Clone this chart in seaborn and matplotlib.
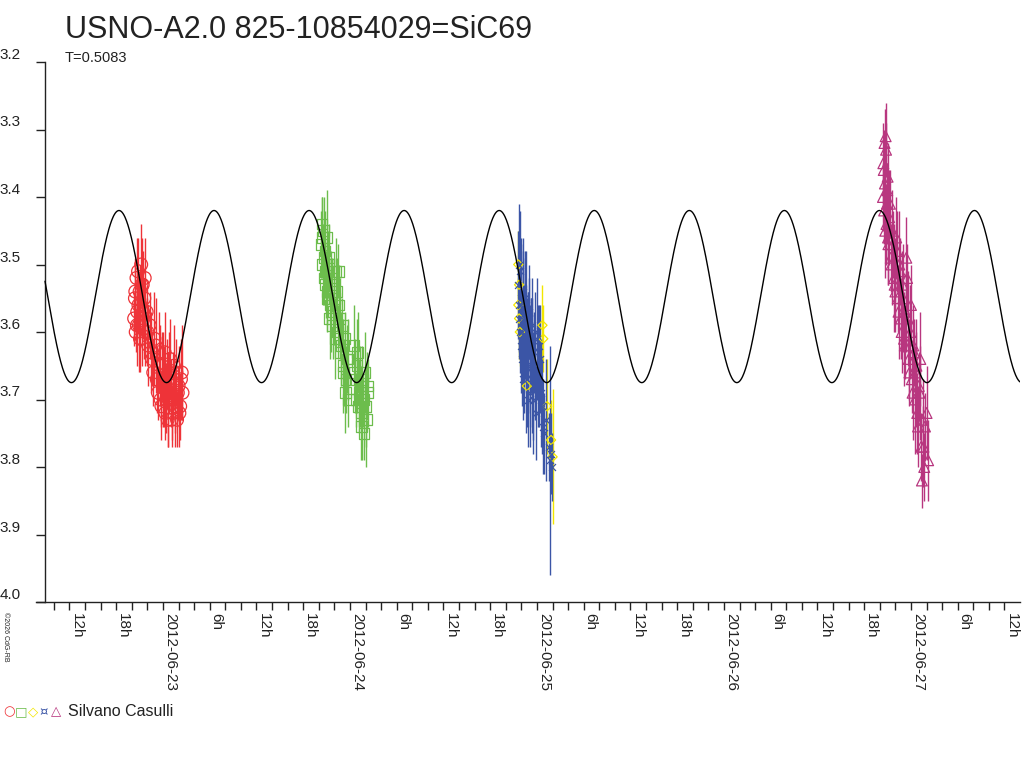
"""
Light curve of USNO-A2.0 825-10854029 (SiC69) with the fitted sinusoid.
"""
import numpy as np
import pandas as pd
import matplotlib
matplotlib.use('Agg')
import matplotlib.pyplot as plt
import seaborn as sns
from matplotlib.ticker import FixedLocator, FuncFormatter

# Observation times in hours since 2012-06-22 00:00, magnitudes and errors
red_t = [20.3, 20.4, 20.5, 20.6, 20.7, 20.8, 20.9, 21.0, 21.1, 21.2, 21.3, 21.4, 21.5,
         21.6, 21.7, 21.9, 22.1, 22.3, 22.6, 22.9, 23.2, 23.5, 23.7, 23.9, 24.1, 24.3,
         24.5, 24.7, 24.9, 25.1, 25.3, 25.5, 25.7, 25.9, 26.1, 26.3, 26.5] + \
        [20.45, 20.65, 20.85, 21.05, 21.25, 21.45, 21.65, 22.0, 22.45, 22.75, 23.05, 23.35,
         23.6, 23.8, 24.0, 24.2, 24.4, 24.6, 24.8, 25.0, 25.2, 25.4, 25.6, 25.8, 26.0, 26.2,
         26.4]
red_mag = [3.58, 3.55, 3.60, 3.52, 3.57, 3.51, 3.59, 3.54, 3.56, 3.50, 3.61, 3.53, 3.58,
           3.55, 3.60, 3.57, 3.62, 3.59, 3.64, 3.61, 3.67, 3.63, 3.70, 3.65, 3.68, 3.72,
           3.66, 3.70, 3.64, 3.73, 3.68, 3.71, 3.66, 3.69, 3.72, 3.67, 3.69] + \
          [3.54, 3.59, 3.56, 3.61, 3.53, 3.57, 3.52, 3.60, 3.63, 3.66, 3.62, 3.69, 3.65,
           3.71, 3.67, 3.63, 3.70, 3.73, 3.66, 3.69, 3.72, 3.65, 3.70, 3.73, 3.68, 3.71,
           3.66]
red_err = [0.04, 0.05, 0.03, 0.06, 0.04, 0.05, 0.07, 0.04, 0.05, 0.06, 0.04, 0.05, 0.06,
           0.03, 0.05, 0.04, 0.06, 0.05, 0.04, 0.07, 0.05, 0.06, 0.04, 0.05, 0.06, 0.04,
           0.05, 0.07, 0.06, 0.04, 0.05, 0.06, 0.05, 0.04, 0.05, 0.06, 0.04] + \
          [0.05, 0.06, 0.04, 0.05, 0.07, 0.04, 0.06, 0.05, 0.06, 0.05, 0.07, 0.04, 0.06,
           0.05, 0.07, 0.06, 0.05, 0.04, 0.06, 0.05, 0.04, 0.06, 0.05, 0.04, 0.06, 0.05,
           0.07]

green_t = [44.3, 44.4, 44.5, 44.6, 44.7, 44.8, 44.9, 45.0, 45.1, 45.2, 45.4, 45.6, 45.8,
           46.0, 46.2, 46.4, 46.6, 46.8, 47.0, 47.2, 47.4, 47.6, 47.8, 48.5, 48.7, 48.9,
           49.1, 49.3, 49.5, 49.7, 49.9, 50.1, 50.3] + \
          [44.45, 44.65, 44.85, 45.05, 45.3, 45.5, 45.7, 45.9, 46.1, 46.3, 46.5, 46.7, 46.9,
           47.1, 47.3, 47.5, 47.7, 48.6, 48.8, 49.0, 49.2, 49.4, 49.6, 49.8, 50.0, 50.2]
green_mag = [3.47, 3.44, 3.50, 3.45, 3.52, 3.48, 3.53, 3.46, 3.55, 3.50, 3.58, 3.52, 3.59,
             3.55, 3.51, 3.60, 3.56, 3.63, 3.59, 3.66, 3.69, 3.64, 3.70, 3.62, 3.67, 3.65,
             3.71, 3.68, 3.74, 3.70, 3.66, 3.73, 3.69] + \
            [3.46, 3.49, 3.51, 3.54, 3.49, 3.56, 3.53, 3.57, 3.61, 3.54, 3.51, 3.58, 3.62,
             3.65, 3.61, 3.67, 3.64, 3.66, 3.70, 3.63, 3.69, 3.72, 3.67, 3.75, 3.71, 3.68]
green_err = [0.05, 0.04, 0.06, 0.05, 0.04, 0.06, 0.05, 0.07, 0.04, 0.05, 0.06, 0.04, 0.05,
             0.06, 0.05, 0.04, 0.06, 0.05, 0.04, 0.05, 0.06, 0.05, 0.04, 0.06, 0.05, 0.07,
             0.04, 0.06, 0.05, 0.04, 0.06, 0.07, 0.05] + \
            [0.06, 0.05, 0.04, 0.06, 0.05, 0.07, 0.04, 0.05, 0.06, 0.05, 0.04, 0.06, 0.05,
             0.07, 0.04, 0.05, 0.06, 0.05, 0.04, 0.06, 0.05, 0.07, 0.05, 0.04, 0.06, 0.05]

yellow_t = [69.6, 69.7, 69.6, 69.8, 69.7, 70.7, 72.7, 72.8, 73.3, 73.8, 74.0]
yellow_mag = [3.50, 3.53, 3.56, 3.60, 3.58, 3.68, 3.59, 3.61, 3.71, 3.76, 3.785]
yellow_err = [0.05, 0.06, 0.04, 0.05, 0.06, 0.05, 0.06, 0.05, 0.07, 0.06, 0.10]

blue_t = [69.6, 69.7, 69.8, 69.9, 70.0, 70.1, 70.2, 70.3, 70.4, 70.5, 70.6, 70.7, 70.8,
          70.9, 71.0, 71.1, 71.2, 71.3, 71.4, 71.5, 71.6, 71.8, 72.0, 72.2, 72.4, 72.6,
          72.9, 73.2, 73.5, 73.7, 73.8, 73.9] + \
         [69.65, 69.75, 69.85, 69.95, 70.05, 70.15, 70.25, 70.35, 70.45, 70.55, 70.65,
          70.75, 70.85, 70.95, 71.05, 71.25, 71.45, 71.7, 71.9, 72.1, 72.3, 72.5, 72.8]
blue_mag = [3.53, 3.58, 3.51, 3.62, 3.56, 3.60, 3.54, 3.65, 3.58, 3.62, 3.56, 3.67, 3.60,
            3.63, 3.57, 3.69, 3.61, 3.65, 3.59, 3.70, 3.63, 3.66, 3.61, 3.68, 3.64, 3.71,
            3.75, 3.73, 3.77, 3.79, 3.78, 3.80] + \
           [3.56, 3.50, 3.60, 3.55, 3.64, 3.58, 3.67, 3.61, 3.55, 3.66, 3.59, 3.63, 3.70,
            3.58, 3.65, 3.62, 3.68, 3.60, 3.72, 3.65, 3.62, 3.69, 3.74]
blue_err = [0.08, 0.06, 0.09, 0.07, 0.10, 0.06, 0.08, 0.07, 0.09, 0.05, 0.08, 0.07, 0.06,
            0.09, 0.07, 0.08, 0.06, 0.10, 0.07, 0.08, 0.06, 0.07, 0.09, 0.06, 0.08, 0.07,
            0.06, 0.09, 0.05, 0.17, 0.06, 0.05] + \
           [0.07, 0.09, 0.06, 0.08, 0.07, 0.10, 0.06, 0.08, 0.07, 0.09, 0.06, 0.08, 0.07,
            0.06, 0.09, 0.07, 0.08, 0.06, 0.07, 0.09, 0.06, 0.08, 0.07]

magenta_t = [116.4, 116.5, 116.6, 116.7, 116.8, 116.9, 117.0, 117.1, 117.2, 117.4, 117.6,
             117.8, 118.0, 118.2, 118.4, 118.6, 118.8, 119.0, 119.2, 119.4, 119.6, 119.8,
             120.0, 120.2, 120.4, 120.6, 120.8, 121.0, 121.2, 121.4, 121.6, 121.8, 122.0,
             122.2] + \
            [116.45, 116.55, 116.65, 116.75, 116.85, 116.95, 117.05, 117.3, 117.5, 117.7,
             117.9, 118.1, 118.3, 118.5, 118.7, 118.9, 119.1, 119.3, 119.5, 119.7, 119.9,
             120.1, 120.3, 120.5, 120.7, 120.9, 121.1, 121.3, 121.5, 121.7]
magenta_mag = [3.40, 3.36, 3.32, 3.45, 3.33, 3.41, 3.37, 3.47, 3.43, 3.49, 3.45, 3.52, 3.54,
               3.48, 3.57, 3.51, 3.60, 3.55, 3.62, 3.49, 3.58, 3.66, 3.56, 3.69, 3.63, 3.66,
               3.72, 3.68, 3.64, 3.82, 3.77, 3.74, 3.72, 3.79] + \
              [3.35, 3.42, 3.38, 3.31, 3.44, 3.39, 3.46, 3.41, 3.50, 3.47, 3.53, 3.46, 3.55,
               3.50, 3.58, 3.53, 3.61, 3.57, 3.52, 3.64, 3.60, 3.67, 3.62, 3.70, 3.65, 3.74,
               3.69, 3.77, 3.73, 3.80]
magenta_err = [0.05, 0.06, 0.05, 0.07, 0.04, 0.06, 0.05, 0.06, 0.07, 0.05, 0.06, 0.08, 0.05,
               0.06, 0.07, 0.05, 0.06, 0.08, 0.05, 0.06, 0.07, 0.05, 0.06, 0.07, 0.05, 0.08,
               0.06, 0.05, 0.07, 0.04, 0.06, 0.05, 0.07, 0.06] + \
              [0.06, 0.05, 0.07, 0.05, 0.06, 0.04, 0.07, 0.05, 0.06, 0.05, 0.07, 0.06, 0.05,
               0.08, 0.06, 0.05, 0.07, 0.06, 0.05, 0.06, 0.07, 0.05, 0.06, 0.08, 0.05, 0.06,
               0.07, 0.05, 0.06, 0.05]

# Fitted sinusoid (days since 2012-06-22 00:00)
PERIOD = 0.5083
EPOCH_MAX = 0.7647
MAG_MEAN = 3.5475
MAG_AMP = 0.1275

y_ticks = [3.2, 3.3, 3.4, 3.5, 3.6, 3.7, 3.8, 3.9, 4.0]
y_labels = ['3.2', '3.3', '3.4', '3.5', '3.6', '3.7', '3.8', '3.9', '4.0']
tick_hours = list(range(10, 133, 2))   # every 2 h, 06-22 10h .. 06-27 12h

TEXT = '#222222'
series = [
    # times, mags, errs, marker, size, colour
    (red_t, red_mag, red_err, 'o', 85, '#ee3338'),
    (green_t, green_mag, green_err, 's', 60, '#6cbd4c'),
    (yellow_t, yellow_mag, yellow_err, 'D', 22, '#f2e600'),
    (blue_t, blue_mag, blue_err, 'x', 25, '#3b55a6'),
    (magenta_t, magenta_mag, magenta_err, '^', 60, '#b8367f'),
]

sns.set_style('ticks')
plt.rcParams['font.family'] = ['Liberation Sans', 'DejaVu Sans']

fig = plt.figure(figsize=(10.24, 7.68), dpi=100)
ax = fig.add_axes([36 / 1024, 166 / 768, 984 / 1024, 540 / 768])

for t, mag, err, marker, size, col in series:
    df = pd.DataFrame({'day': np.array(t) / 24.0, 'mag': mag, 'err': err})
    ax.errorbar(df['day'], df['mag'], yerr=df['err'], fmt='none', ecolor=col,
                elinewidth=1.0, capsize=0, zorder=2)
    if marker == 'x':
        sns.scatterplot(data=df, x='day', y='mag', marker=marker, s=size, color=col,
                        edgecolor=None, linewidth=0.9, ax=ax, zorder=3)
    else:
        sns.scatterplot(data=df, x='day', y='mag', marker=marker, s=size, facecolor='none',
                        edgecolor=col, linewidth=0.9, ax=ax, zorder=3)

# model curve
curve_t = np.linspace(0.369, 5.583, 2000)
curve_m = MAG_MEAN - MAG_AMP * np.cos(2 * np.pi * (curve_t - EPOCH_MAX) / PERIOD)
sns.lineplot(x=curve_t, y=curve_m, color='black', linewidth=1.0, estimator=None,
             sort=False, ax=ax, zorder=5)

ax.set_xlim(0.32086, 5.58289)
ax.set_ylim(4.0, 3.2)
ax.set_xlabel('')
ax.set_ylabel('')
ax.spines['top'].set_visible(False)
ax.spines['right'].set_visible(False)
ax.spines['left'].set_position(('data', 0.369))
for side in ['left', 'bottom']:
    ax.spines[side].set_color(TEXT)
    ax.spines[side].set_linewidth(1.0)


def fmt_hour(x, pos):
    h = int(round(x * 24))
    if h % 24 == 0:
        return '2012-06-%02d' % (22 + h // 24)
    if h % 6 == 0:
        return '%dh' % (h % 24)
    return ''


ax.xaxis.set_major_locator(FixedLocator([h / 24.0 for h in tick_hours]))
ax.xaxis.set_major_formatter(FuncFormatter(fmt_hour))
ax.set_yticks(y_ticks)
ax.set_yticklabels(y_labels)
ax.tick_params(axis='x', direction='out', length=6, width=1.0, color=TEXT,
               labelsize=11, labelcolor=TEXT, pad=2, labelrotation=-90)
ax.tick_params(axis='y', direction='out', length=6.5, width=1.0, color=TEXT,
               labelsize=11, labelcolor=TEXT, pad=11)
for lab in ax.get_xticklabels():
    lab.set_ha('left')
    lab.set_va('top')
for lab in ax.get_yticklabels():
    lab.set_va('bottom')

fig.text(65 / 1024, 1 - 30 / 768, 'USNO-A2.0 825-10854029=SiC69', fontsize=22,
         color=TEXT, ha='left', va='center')
fig.text(65 / 1024, 1 - 58 / 768, 'T=0.5083', fontsize=10.5, color=TEXT,
         ha='left', va='center')
fig.text(2 / 1024, 1 - 612 / 768, '©2026 CdG-RB', fontsize=5, rotation=-90,
         color=TEXT, ha='left', va='top')

# observer legend
legend_syms = ['○', '□', '◇', '¤', '△']
legend_x = [9, 21, 33, 44, 56]
for sym, lx, (_, _, _, _, _, col) in zip(legend_syms, legend_x, series):
    fig.text(lx / 1024, 1 - 712 / 768, sym, fontsize=9.5, color=col,
             family=['DejaVu Sans'], ha='center', va='center')
fig.text(68 / 1024, 1 - 712 / 768, 'Silvano Casulli', fontsize=11.5, color=TEXT,
         ha='left', va='center')

fig.savefig('out.png', dpi=100)
